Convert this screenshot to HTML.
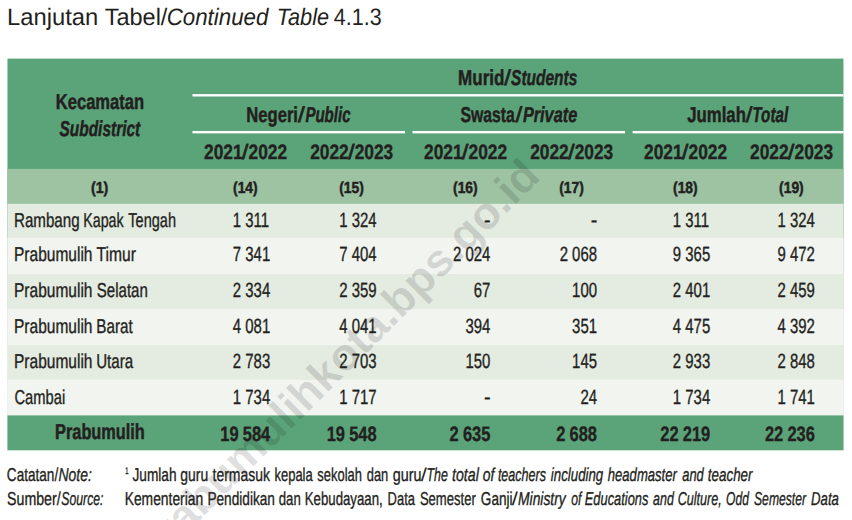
<!DOCTYPE html>
<html lang="id"><head><meta charset="utf-8"><title>Lanjutan Tabel 4.1.3</title>
<style>
html,body{margin:0;padding:0;background:#fff;}
body{width:852px;height:520px;overflow:hidden;}
svg{display:block;font-family:"Liberation Sans", sans-serif;text-rendering:geometricPrecision;}
text{white-space:pre;}
.t text{fill:#231f20;stroke:#231f20;stroke-linejoin:round;}
</style></head><body>
<svg width="852" height="520" viewBox="0 0 852 520">
<rect width="852" height="520" fill="#fff"/>
<g>
<rect x="7.46" y="58.60" width="836.00" height="391.55" fill="#5ba479"/>
<rect x="7.46" y="168.90" width="836.00" height="281.25" fill="#9dc3a3"/>
<rect x="7.46" y="203.85" width="836.00" height="246.30" fill="#e4ebe1"/>
<rect x="7.46" y="238.00" width="836.00" height="212.15" fill="#f1f4ef"/>
<rect x="7.46" y="274.00" width="836.00" height="176.15" fill="#e4ebe1"/>
<rect x="7.46" y="309.00" width="836.00" height="141.15" fill="#f1f4ef"/>
<rect x="7.46" y="345.00" width="836.00" height="105.15" fill="#e4ebe1"/>
<rect x="7.46" y="379.65" width="836.00" height="70.50" fill="#f1f4ef"/>
<rect x="7.46" y="415.40" width="836.00" height="34.75" fill="#5ba479"/>
<rect x="192.46" y="94.10" width="651.00" height="2.40" fill="#fff"/>
<rect x="192.46" y="130.95" width="212.54" height="2.40" fill="#fff"/>
<rect x="412.50" y="130.95" width="212.50" height="2.40" fill="#fff"/>
<rect x="632.60" y="130.95" width="210.86" height="2.40" fill="#fff"/>
</g>
<g><text transform="translate(153.07 566.99) rotate(-45.0)" font-size="45.0" font-weight="bold" text-anchor="start" fill="#000" fill-opacity="0.13" letter-spacing="0.0">prabumulihkota.bps.go.id</text></g>
<g class="t">
<text transform="translate(7.05 24.60) scale(0.9994 1)" font-size="23.8" font-weight="normal" font-style="normal" stroke-width="0.0">Lanjutan</text>
<text transform="translate(104.71 24.60) scale(0.9872 1)" font-size="23.8" font-weight="normal" font-style="normal" stroke-width="0.0">Tabel/</text>
<text transform="translate(166.63 24.60) scale(0.9385 1)" font-size="23.8" font-weight="normal" font-style="italic" stroke-width="0.0">Continued</text>
<text transform="translate(276.75 24.60) scale(0.9122 1)" font-size="23.8" font-weight="normal" font-style="italic" stroke-width="0.0">Table</text>
<text transform="translate(333.86 24.60) scale(0.9025 1)" font-size="23.8" font-weight="normal" font-style="normal" stroke-width="0.0">4.1.3</text>
<text transform="translate(55.77 108.50) scale(0.7668 1)" font-size="21.6" font-weight="bold" font-style="normal" stroke-width="0.5">Kecamatan</text>
<text transform="translate(59.41 136.00) scale(0.7167 1)" font-size="21.6" font-weight="bold" font-style="italic" stroke-width="0.5">Subdistrict</text>
<text transform="translate(458.04 85.10) scale(0.7890 1)" font-size="21.6" font-weight="bold" font-style="normal" stroke-width="0.5">Murid</text>
<text transform="translate(504.15 85.10) scale(1.1200 1)" font-size="21.6" font-weight="normal" font-style="normal" stroke-width="0.6">/</text>
<text transform="translate(511.12 85.10) scale(0.7165 1)" font-size="21.6" font-weight="bold" font-style="italic" stroke-width="0.5">Students</text>
<text transform="translate(246.26 121.50) scale(0.7697 1)" font-size="21.6" font-weight="bold" font-style="normal" stroke-width="0.5">Negeri</text>
<text transform="translate(297.89 121.50) scale(1.1329 1)" font-size="21.6" font-weight="normal" font-style="normal" stroke-width="0.6">/</text>
<text transform="translate(305.41 121.50) scale(0.6962 1)" font-size="21.6" font-weight="bold" font-style="italic" stroke-width="0.5">Public</text>
<text transform="translate(460.48 121.50) scale(0.7293 1)" font-size="21.6" font-weight="bold" font-style="normal" stroke-width="0.5">Swasta</text>
<text transform="translate(515.52 121.50) scale(1.1332 1)" font-size="21.6" font-weight="normal" font-style="normal" stroke-width="0.6">/</text>
<text transform="translate(522.91 121.50) scale(0.7537 1)" font-size="21.6" font-weight="bold" font-style="italic" stroke-width="0.5">Private</text>
<text transform="translate(687.20 121.50) scale(0.7763 1)" font-size="21.6" font-weight="bold" font-style="normal" stroke-width="0.5">Jumlah</text>
<text transform="translate(745.65 121.50) scale(1.1203 1)" font-size="21.6" font-weight="normal" font-style="normal" stroke-width="0.6">/</text>
<text transform="translate(752.35 121.50) scale(0.7050 1)" font-size="21.6" font-weight="bold" font-style="italic" stroke-width="0.5">Total</text>
<text transform="translate(204.00 158.90) scale(0.8342 1)" font-size="20.8" font-weight="bold" font-style="normal" stroke-width="0.35">2021</text>
<text transform="translate(242.02 158.90) scale(1.0933 1)" font-size="20.8" font-weight="normal" font-style="normal" stroke-width="0.7">/</text>
<text transform="translate(248.50 158.90) scale(0.8342 1)" font-size="20.8" font-weight="bold" font-style="normal" stroke-width="0.35">2022</text>
<text transform="translate(310.15 158.90) scale(0.8342 1)" font-size="20.8" font-weight="bold" font-style="normal" stroke-width="0.35">2022</text>
<text transform="translate(348.22 158.90) scale(1.0933 1)" font-size="20.8" font-weight="normal" font-style="normal" stroke-width="0.7">/</text>
<text transform="translate(354.65 158.90) scale(0.8342 1)" font-size="20.8" font-weight="bold" font-style="normal" stroke-width="0.35">2023</text>
<text transform="translate(424.00 158.90) scale(0.8342 1)" font-size="20.8" font-weight="bold" font-style="normal" stroke-width="0.35">2021</text>
<text transform="translate(462.02 158.90) scale(1.0933 1)" font-size="20.8" font-weight="normal" font-style="normal" stroke-width="0.7">/</text>
<text transform="translate(468.50 158.90) scale(0.8342 1)" font-size="20.8" font-weight="bold" font-style="normal" stroke-width="0.35">2022</text>
<text transform="translate(530.15 158.90) scale(0.8342 1)" font-size="20.8" font-weight="bold" font-style="normal" stroke-width="0.35">2022</text>
<text transform="translate(568.22 158.90) scale(1.0933 1)" font-size="20.8" font-weight="normal" font-style="normal" stroke-width="0.7">/</text>
<text transform="translate(574.65 158.90) scale(0.8342 1)" font-size="20.8" font-weight="bold" font-style="normal" stroke-width="0.35">2023</text>
<text transform="translate(644.00 158.90) scale(0.8342 1)" font-size="20.8" font-weight="bold" font-style="normal" stroke-width="0.35">2021</text>
<text transform="translate(682.02 158.90) scale(1.0933 1)" font-size="20.8" font-weight="normal" font-style="normal" stroke-width="0.7">/</text>
<text transform="translate(688.50 158.90) scale(0.8342 1)" font-size="20.8" font-weight="bold" font-style="normal" stroke-width="0.35">2022</text>
<text transform="translate(750.05 158.90) scale(0.8342 1)" font-size="20.8" font-weight="bold" font-style="normal" stroke-width="0.35">2022</text>
<text transform="translate(788.08 158.90) scale(1.0933 1)" font-size="20.8" font-weight="normal" font-style="normal" stroke-width="0.7">/</text>
<text transform="translate(794.55 158.90) scale(0.8342 1)" font-size="20.8" font-weight="bold" font-style="normal" stroke-width="0.35">2023</text>
<text transform="translate(90.96 192.80) scale(0.8884 1)" font-size="16.0" font-weight="bold" font-style="normal" stroke-width="0.5">(1)</text>
<text transform="translate(233.02 192.80) scale(0.8657 1)" font-size="16.0" font-weight="bold" font-style="normal" stroke-width="0.5">(14)</text>
<text transform="translate(339.17 192.80) scale(0.8662 1)" font-size="16.0" font-weight="bold" font-style="normal" stroke-width="0.5">(15)</text>
<text transform="translate(453.02 192.80) scale(0.8657 1)" font-size="16.0" font-weight="bold" font-style="normal" stroke-width="0.5">(16)</text>
<text transform="translate(559.17 192.80) scale(0.8662 1)" font-size="16.0" font-weight="bold" font-style="normal" stroke-width="0.5">(17)</text>
<text transform="translate(673.02 192.80) scale(0.8657 1)" font-size="16.0" font-weight="bold" font-style="normal" stroke-width="0.5">(18)</text>
<text transform="translate(779.08 192.80) scale(0.8656 1)" font-size="16.0" font-weight="bold" font-style="normal" stroke-width="0.5">(19)</text>
<text transform="translate(14.01 226.80) scale(0.7564 1)" font-size="20.0" font-weight="normal" font-style="normal" stroke-width="0.35">Rambang</text>
<text transform="translate(83.21 226.80) scale(0.7119 1)" font-size="20.0" font-weight="normal" font-style="normal" stroke-width="0.35">Kapak</text>
<text transform="translate(128.28 226.80) scale(0.7267 1)" font-size="20.0" font-weight="normal" font-style="normal" stroke-width="0.35">Tengah</text>
<text transform="translate(232.85 226.80) scale(0.7245 1)" font-size="20.6" font-weight="normal" font-style="normal" stroke-width="0.35">1 311</text>
<text transform="translate(339.25 226.80) scale(0.7245 1)" font-size="20.6" font-weight="normal" font-style="normal" stroke-width="0.35">1 324</text>
<text transform="translate(483.98 226.80) scale(0.9601 1)" font-size="20.6" font-weight="normal" font-style="normal" stroke-width="0.35">-</text>
<text transform="translate(590.65 226.80) scale(0.9601 1)" font-size="20.6" font-weight="normal" font-style="normal" stroke-width="0.35">-</text>
<text transform="translate(672.85 226.80) scale(0.7245 1)" font-size="20.6" font-weight="normal" font-style="normal" stroke-width="0.35">1 311</text>
<text transform="translate(777.55 226.80) scale(0.7245 1)" font-size="20.6" font-weight="normal" font-style="normal" stroke-width="0.35">1 324</text>
<text transform="translate(13.98 261.30) scale(0.7758 1)" font-size="20.0" font-weight="normal" font-style="normal" stroke-width="0.35">Prabumulih</text>
<text transform="translate(96.56 261.30) scale(0.7800 1)" font-size="20.0" font-weight="normal" font-style="normal" stroke-width="0.35">Timur</text>
<text transform="translate(232.85 261.30) scale(0.7245 1)" font-size="20.6" font-weight="normal" font-style="normal" stroke-width="0.35">7 341</text>
<text transform="translate(339.25 261.30) scale(0.7245 1)" font-size="20.6" font-weight="normal" font-style="normal" stroke-width="0.35">7 404</text>
<text transform="translate(453.00 261.30) scale(0.7245 1)" font-size="20.6" font-weight="normal" font-style="normal" stroke-width="0.35">2 024</text>
<text transform="translate(559.65 261.30) scale(0.7245 1)" font-size="20.6" font-weight="normal" font-style="normal" stroke-width="0.35">2 068</text>
<text transform="translate(672.85 261.30) scale(0.7245 1)" font-size="20.6" font-weight="normal" font-style="normal" stroke-width="0.35">9 365</text>
<text transform="translate(777.55 261.30) scale(0.7245 1)" font-size="20.6" font-weight="normal" font-style="normal" stroke-width="0.35">9 472</text>
<text transform="translate(13.98 296.60) scale(0.7758 1)" font-size="20.0" font-weight="normal" font-style="normal" stroke-width="0.35">Prabumulih</text>
<text transform="translate(96.81 296.60) scale(0.7517 1)" font-size="20.0" font-weight="normal" font-style="normal" stroke-width="0.35">Selatan</text>
<text transform="translate(232.85 296.60) scale(0.7245 1)" font-size="20.6" font-weight="normal" font-style="normal" stroke-width="0.35">2 334</text>
<text transform="translate(339.25 296.60) scale(0.7245 1)" font-size="20.6" font-weight="normal" font-style="normal" stroke-width="0.35">2 359</text>
<text transform="translate(473.75 296.60) scale(0.7245 1)" font-size="20.6" font-weight="normal" font-style="normal" stroke-width="0.35">67</text>
<text transform="translate(572.10 296.60) scale(0.7245 1)" font-size="20.6" font-weight="normal" font-style="normal" stroke-width="0.35">100</text>
<text transform="translate(672.85 296.60) scale(0.7245 1)" font-size="20.6" font-weight="normal" font-style="normal" stroke-width="0.35">2 401</text>
<text transform="translate(777.55 296.60) scale(0.7245 1)" font-size="20.6" font-weight="normal" font-style="normal" stroke-width="0.35">2 459</text>
<text transform="translate(13.98 332.70) scale(0.7758 1)" font-size="20.0" font-weight="normal" font-style="normal" stroke-width="0.35">Prabumulih</text>
<text transform="translate(96.34 332.70) scale(0.7607 1)" font-size="20.0" font-weight="normal" font-style="normal" stroke-width="0.35">Barat</text>
<text transform="translate(232.85 332.70) scale(0.7245 1)" font-size="20.6" font-weight="normal" font-style="normal" stroke-width="0.35">4 081</text>
<text transform="translate(339.25 332.70) scale(0.7245 1)" font-size="20.6" font-weight="normal" font-style="normal" stroke-width="0.35">4 041</text>
<text transform="translate(465.45 332.70) scale(0.7245 1)" font-size="20.6" font-weight="normal" font-style="normal" stroke-width="0.35">394</text>
<text transform="translate(572.10 332.70) scale(0.7245 1)" font-size="20.6" font-weight="normal" font-style="normal" stroke-width="0.35">351</text>
<text transform="translate(672.85 332.70) scale(0.7245 1)" font-size="20.6" font-weight="normal" font-style="normal" stroke-width="0.35">4 475</text>
<text transform="translate(777.55 332.70) scale(0.7245 1)" font-size="20.6" font-weight="normal" font-style="normal" stroke-width="0.35">4 392</text>
<text transform="translate(13.98 367.70) scale(0.7758 1)" font-size="20.0" font-weight="normal" font-style="normal" stroke-width="0.35">Prabumulih</text>
<text transform="translate(96.14 367.70) scale(0.7570 1)" font-size="20.0" font-weight="normal" font-style="normal" stroke-width="0.35">Utara</text>
<text transform="translate(232.85 367.70) scale(0.7245 1)" font-size="20.6" font-weight="normal" font-style="normal" stroke-width="0.35">2 783</text>
<text transform="translate(339.25 367.70) scale(0.7245 1)" font-size="20.6" font-weight="normal" font-style="normal" stroke-width="0.35">2 703</text>
<text transform="translate(465.45 367.70) scale(0.7245 1)" font-size="20.6" font-weight="normal" font-style="normal" stroke-width="0.35">150</text>
<text transform="translate(572.10 367.70) scale(0.7245 1)" font-size="20.6" font-weight="normal" font-style="normal" stroke-width="0.35">145</text>
<text transform="translate(672.85 367.70) scale(0.7245 1)" font-size="20.6" font-weight="normal" font-style="normal" stroke-width="0.35">2 933</text>
<text transform="translate(777.55 367.70) scale(0.7245 1)" font-size="20.6" font-weight="normal" font-style="normal" stroke-width="0.35">2 848</text>
<text transform="translate(14.49 403.50) scale(0.7361 1)" font-size="20.0" font-weight="normal" font-style="normal" stroke-width="0.35">Cambai</text>
<text transform="translate(232.85 403.50) scale(0.7245 1)" font-size="20.6" font-weight="normal" font-style="normal" stroke-width="0.35">1 734</text>
<text transform="translate(339.25 403.50) scale(0.7245 1)" font-size="20.6" font-weight="normal" font-style="normal" stroke-width="0.35">1 717</text>
<text transform="translate(483.98 403.50) scale(0.9601 1)" font-size="20.6" font-weight="normal" font-style="normal" stroke-width="0.35">-</text>
<text transform="translate(580.40 403.50) scale(0.7245 1)" font-size="20.6" font-weight="normal" font-style="normal" stroke-width="0.35">24</text>
<text transform="translate(672.85 403.50) scale(0.7245 1)" font-size="20.6" font-weight="normal" font-style="normal" stroke-width="0.35">1 734</text>
<text transform="translate(777.55 403.50) scale(0.7245 1)" font-size="20.6" font-weight="normal" font-style="normal" stroke-width="0.35">1 741</text>
<text transform="translate(55.08 438.70) scale(0.7556 1)" font-size="21.6" font-weight="bold" font-style="normal" stroke-width="0.5">Prabumulih</text>
<text transform="translate(220.25 441.00) scale(0.7910 1)" font-size="20.8" font-weight="bold" font-style="normal" stroke-width="0.35" word-spacing="-0.47">19 584</text>
<text transform="translate(326.65 441.00) scale(0.7910 1)" font-size="20.8" font-weight="bold" font-style="normal" stroke-width="0.35" word-spacing="-0.47">19 548</text>
<text transform="translate(449.55 441.00) scale(0.7910 1)" font-size="20.8" font-weight="bold" font-style="normal" stroke-width="0.35" word-spacing="-0.47">2 635</text>
<text transform="translate(556.20 441.00) scale(0.7910 1)" font-size="20.8" font-weight="bold" font-style="normal" stroke-width="0.35" word-spacing="-0.47">2 688</text>
<text transform="translate(660.25 441.00) scale(0.7910 1)" font-size="20.8" font-weight="bold" font-style="normal" stroke-width="0.35" word-spacing="-0.47">22 219</text>
<text transform="translate(764.95 441.00) scale(0.7910 1)" font-size="20.8" font-weight="bold" font-style="normal" stroke-width="0.35" word-spacing="-0.47">22 236</text>
<text transform="translate(6.83 480.80) scale(0.7301 1)" font-size="18.6" font-weight="normal" font-style="normal" stroke-width="0.35">Catatan/</text>
<text transform="translate(58.47 480.80) scale(0.7507 1)" font-size="18.6" font-weight="normal" font-style="italic" stroke-width="0.35">Note:</text>
<text transform="translate(7.03 504.70) scale(0.7627 1)" font-size="18.6" font-weight="normal" font-style="normal" stroke-width="0.35">Sumber/</text>
<text transform="translate(61.30 504.70) scale(0.6576 1)" font-size="18.6" font-weight="normal" font-style="italic" stroke-width="0.35">Source:</text>
<text transform="translate(125.13 474.00) scale(0.6046 1)" font-size="9.6" font-weight="normal" font-style="normal" stroke-width="0.35">1</text>
<text transform="translate(132.50 480.80) scale(0.7350 1)" font-size="18.6" font-weight="normal" font-style="normal" stroke-width="0.35">Jumlah</text>
<text transform="translate(180.34 480.80) scale(0.7499 1)" font-size="18.6" font-weight="normal" font-style="normal" stroke-width="0.35">guru</text>
<text transform="translate(212.50 480.80) scale(0.7514 1)" font-size="18.6" font-weight="normal" font-style="normal" stroke-width="0.35">termasuk</text>
<text transform="translate(274.44 480.80) scale(0.6989 1)" font-size="18.6" font-weight="normal" font-style="normal" stroke-width="0.35">kepala</text>
<text transform="translate(317.29 480.80) scale(0.6966 1)" font-size="18.6" font-weight="normal" font-style="normal" stroke-width="0.35">sekolah</text>
<text transform="translate(366.78 480.80) scale(0.6919 1)" font-size="18.6" font-weight="normal" font-style="normal" stroke-width="0.35">dan</text>
<text transform="translate(392.83 480.80) scale(0.7710 1)" font-size="18.6" font-weight="normal" font-style="normal" stroke-width="0.35">guru</text>
<text transform="translate(420.84 480.80) scale(1.1839 1)" font-size="18.6" font-weight="normal" font-style="normal" stroke-width="0.0">/</text>
<text transform="translate(426.48 480.80) scale(0.6694 1)" font-size="18.6" font-weight="normal" font-style="italic" stroke-width="0.35">The</text>
<text transform="translate(452.03 480.80) scale(0.7630 1)" font-size="18.6" font-weight="normal" font-style="italic" stroke-width="0.35">total</text>
<text transform="translate(482.84 480.80) scale(0.7459 1)" font-size="18.6" font-weight="normal" font-style="italic" stroke-width="0.35">of</text>
<text transform="translate(497.88 480.80) scale(0.6745 1)" font-size="18.6" font-weight="normal" font-style="italic" stroke-width="0.35">teachers</text>
<text transform="translate(550.83 480.80) scale(0.7141 1)" font-size="18.6" font-weight="normal" font-style="italic" stroke-width="0.35">including</text>
<text transform="translate(607.79 480.80) scale(0.7036 1)" font-size="18.6" font-weight="normal" font-style="italic" stroke-width="0.35">headmaster</text>
<text transform="translate(682.29 480.80) scale(0.6927 1)" font-size="18.6" font-weight="normal" font-style="italic" stroke-width="0.35">and</text>
<text transform="translate(707.85 480.80) scale(0.7195 1)" font-size="18.6" font-weight="normal" font-style="italic" stroke-width="0.35">teacher</text>
<text transform="translate(124.66 504.70) scale(0.7448 1)" font-size="18.6" font-weight="normal" font-style="normal" stroke-width="0.35">Kementerian</text>
<text transform="translate(207.43 504.70) scale(0.7335 1)" font-size="18.6" font-weight="normal" font-style="normal" stroke-width="0.35">Pendidikan</text>
<text transform="translate(278.77 504.70) scale(0.7090 1)" font-size="18.6" font-weight="normal" font-style="normal" stroke-width="0.35">dan</text>
<text transform="translate(304.71 504.70) scale(0.7122 1)" font-size="18.6" font-weight="normal" font-style="normal" stroke-width="0.35">Kebudayaan,</text>
<text transform="translate(387.61 504.70) scale(0.6954 1)" font-size="18.6" font-weight="normal" font-style="normal" stroke-width="0.35">Data</text>
<text transform="translate(419.90 504.70) scale(0.7024 1)" font-size="18.6" font-weight="normal" font-style="normal" stroke-width="0.35">Semester</text>
<text transform="translate(480.83 504.70) scale(0.7296 1)" font-size="18.6" font-weight="normal" font-style="normal" stroke-width="0.35">Ganji</text>
<text transform="translate(511.84 504.70) scale(1.1839 1)" font-size="18.6" font-weight="normal" font-style="normal" stroke-width="0.0">/</text>
<text transform="translate(517.98 504.70) scale(0.7465 1)" font-size="18.6" font-weight="normal" font-style="italic" stroke-width="0.35">Ministry</text>
<text transform="translate(571.14 504.70) scale(0.6561 1)" font-size="18.6" font-weight="normal" font-style="italic" stroke-width="0.35">of</text>
<text transform="translate(584.79 504.70) scale(0.6915 1)" font-size="18.6" font-weight="normal" font-style="italic" stroke-width="0.35">Educations</text>
<text transform="translate(653.08 504.70) scale(0.6689 1)" font-size="18.6" font-weight="normal" font-style="italic" stroke-width="0.35">and</text>
<text transform="translate(677.67 504.70) scale(0.6753 1)" font-size="18.6" font-weight="normal" font-style="italic" stroke-width="0.35">Culture,</text>
<text transform="translate(726.12 504.70) scale(0.6474 1)" font-size="18.6" font-weight="normal" font-style="italic" stroke-width="0.35">Odd</text>
<text transform="translate(754.01 504.70) scale(0.6541 1)" font-size="18.6" font-weight="normal" font-style="italic" stroke-width="0.35">Semester</text>
<text transform="translate(811.11 504.70) scale(0.7086 1)" font-size="18.6" font-weight="normal" font-style="italic" stroke-width="0.35">Data</text>
</g>
</svg>
</body></html>
